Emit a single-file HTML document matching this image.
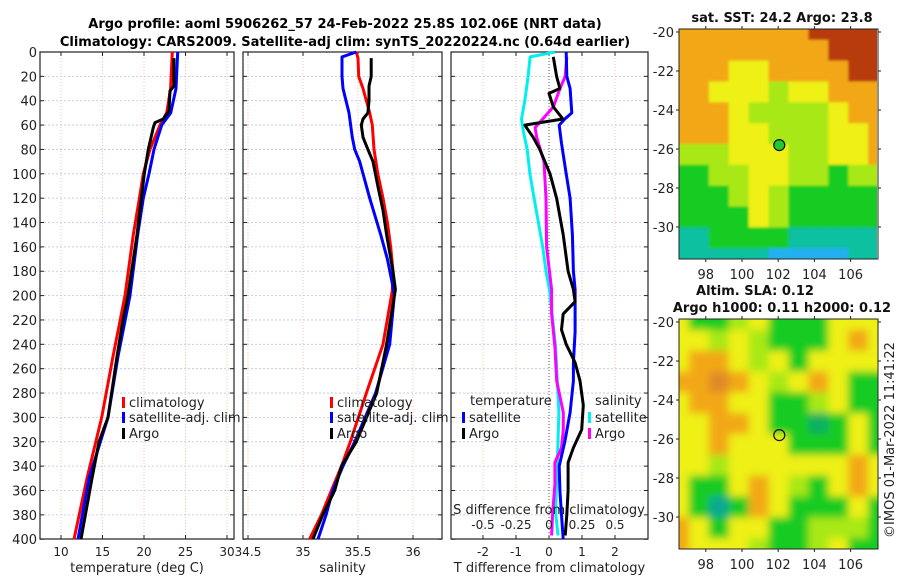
<!DOCTYPE html>
<html><head><meta charset="utf-8">
<style>
body{margin:0;background:#fff;}
svg{display:block;font-family:"DejaVu Sans","Liberation Sans",sans-serif;}
</style></head>
<body>
<svg id="chart" width="900" height="580" viewBox="0 0 900 580">
<defs>
<filter id="blur" x="0" y="0" width="1" height="1"><feGaussianBlur stdDeviation="4"/></filter>
<filter id="blur2" x="0" y="0" width="1" height="1"><feGaussianBlur stdDeviation="1.2"/></filter>
<clipPath id="clipTop"><rect x="679" y="29" width="198" height="230"/></clipPath>
<clipPath id="clipBot"><rect x="679" y="319" width="199" height="230"/></clipPath>
</defs>
<text x="345" y="28" text-anchor="middle" font-size="13" font-weight="bold">Argo profile: aoml 5906262_57 24-Feb-2022 25.8S 102.06E (NRT data)</text>
<text x="345" y="46" text-anchor="middle" font-size="13" font-weight="bold">Climatology: CARS2009. Satellite-adj clim: synTS_20220224.nc (0.64d earlier)</text>
<g id="g"></g>
</svg>
<script>
// ---- Data ----
const depthTClim=[0,30,50,60,80,100,120,150,200,250,300,350,400];
const tempClim=[23.41,23.2,22.73,21.93,20.72,19.92,19.44,18.71,17.71,16.27,14.9,13.13,11.57];
const depthTSat=[0,30,50,60,80,100,120,150,200,250,300,350,400];
const tempSat=[24.06,23.86,23.22,22.13,21.2,20.6,19.92,19.24,18.31,16.87,15.66,13.37,12.05];
const depthTArgo=[5,28,32,48,55,58,62,80,100,150,200,220,250,300,320,350,400];
const tempArgo=[23.6,23.6,23.13,23.01,22.33,21.32,21.12,20.52,20.04,19.16,18.07,17.47,16.75,15.66,14.58,13.73,12.41];

const depthSClim=[0,5,20,30,50,60,80,100,120,140,160,180,196,240,280,320,340,360,380,400];
const salClim=[35.485,35.5,35.506,35.545,35.606,35.63,35.645,35.68,35.727,35.767,35.797,35.818,35.812,35.727,35.576,35.43,35.35,35.258,35.167,35.06];
const depthSSat=[0,4,20,30,50,70,80,90,120,150,170,190,200,240,280,320,340,360,380,400];
const salSat=[35.485,35.355,35.355,35.364,35.418,35.448,35.47,35.515,35.606,35.706,35.767,35.812,35.83,35.788,35.66,35.47,35.364,35.27,35.21,35.136];
const depthSArgo=[5,20,28,40,50,55,60,70,80,90,110,130,150,180,195,240,280,320,340,360,380,400];
const salArgo=[35.62,35.62,35.6,35.6,35.59,35.545,35.53,35.545,35.59,35.636,35.68,35.727,35.76,35.818,35.84,35.76,35.67,35.485,35.35,35.288,35.18,35.09];

const depthDSSat=[0,4,20,40,55,65,80,100,120,140,160,180,195,242,296,337,378,397];
const sDiffSat=[0.045,-0.143,-0.158,-0.183,-0.208,-0.195,-0.165,-0.145,-0.113,-0.08,-0.048,-0.023,0.003,0.05,0.075,0.063,0.05,0.068];
const depthDSArgo=[4,20,30,45,55,62,70,90,120,160,195,215,242,270,296,310,325,337,355,378,397];
const sDiffArgo=[0.135,0.123,0.083,0.033,-0.048,-0.105,-0.093,-0.038,-0.023,-0.018,0.02,0.02,0.045,0.058,0.108,0.108,0.095,0.045,0.045,0.028,0.02];
const depthDTSat=[0,20,30,50,55,60,75,100,120,150,180,195,205,230,255,270,296,320,340,360,380,400];
const tDiffSat=[0.52,0.54,0.64,0.69,0.48,0.31,0.38,0.52,0.64,0.71,0.74,0.79,0.79,0.79,0.74,0.74,0.64,0.48,0.31,0.33,0.38,0.43];
const depthDTArgo=[4,20,30,34,45,55,58,60,63,70,80,100,120,150,180,195,205,215,228,240,255,270,290,310,325,337,360,380,397];
const tDiffArgo=[0.13,0.23,0.33,0.0,0.13,0.42,-0.27,-0.73,-0.66,-0.48,-0.28,0.03,0.23,0.43,0.58,0.74,0.79,0.43,0.38,0.52,0.79,0.94,1.04,0.99,0.74,0.58,0.58,0.54,0.49];

const depthTicks=[0,20,40,60,80,100,120,140,160,180,200,220,240,260,280,300,320,340,360,380,400];
const tempTicks=[10,15,20,25,30];
const salTicks=[34.5,35,35.5,36];
const tdTicks=[-2,-1,0,1,2];
const sdTicks=[-0.5,-0.25,0,0.25,0.5];
const sdTickLabels=["-0.5","-0.25","0","0.25","0.5"];
const latTicks=[-20,-22,-24,-26,-28,-30];
const lonTicks=[98,100,102,104,106];

// map colour grids (rows lat -20..-31, cols lon 97..107)
const sstGrid=["ooooooorrrr","oooooooorrr","oooyyoooorr","ooyyylyyooo","oooyllllyoo","oooyylllyyo","lllyyyllyyo","ggllyyllgll","ggglylggggg","ggggylggggg","ttggggttttt","tttttcccctt"];
const slaGrid=["ygglygggyyy","yylylgggyoy","yooylygyyyy","ooOoylyoygg","yooyygglygg","yyooyggGgyg","yyoyyygggyg","yylyyyyyyoy","yggyoylgyoy","ygTgoygggyg","oygyygglllg","oyyylgglygg"];
const palette={o:"#f2a818",O:"#e08a28",r:"#b83a10",y:"#eef018",l:"#a8e818",g:"#18cc20",G:"#10b060",t:"#10c0a0",T:"#10a890",c:"#20b0f0"};

// ---- Axes ----
const yD=d=>52+d*1.218;
const xT=t=>61+(t-10)*8.3;
const xS=s=>303+(s-35)*110;
const xDT=v=>549+v*33;
const xDS=s=>549+s*132;
const lonX=lo=>742+(lo-100)*18.1;
const latY=(la,top)=>top+(-20-la)*19.5;

const NS="http://www.w3.org/2000/svg";
const G=document.getElementById('g');
function mk(tag,attrs,parent){const e=document.createElementNS(NS,tag);for(const k in attrs)e.setAttribute(k,attrs[k]);(parent||G).appendChild(e);return e;}
function txt(x,y,s,size,anchor,parent){const e=mk('text',{x:x,y:y,'font-size':size||12,'text-anchor':anchor||'middle',fill:'#222'},parent);e.textContent=s;return e;}

function panel(name,x0,x1,ticks,xf,labels,xlabel,showDepth){
  const g=mk('g',{});
  
  
  const y0=52,y1=539;
  depthTicks.forEach(d=>{const l=mk('line',{x1:x0,x2:x1,y1:yD(d),y2:yD(d),stroke:'#b8c4ec','stroke-width':0.8,'stroke-dasharray':'2,2'},g);});
  ticks.forEach(t=>{const l=mk('line',{x1:xf(t),x2:xf(t),y1:y0,y2:y1,stroke:'#e8b8a0','stroke-width':0.8,'stroke-dasharray':'1,2'},g);});
  const fr=mk('rect',{x:x0,y:y0,width:x1-x0,height:y1-y0,fill:'none',stroke:'#222','stroke-width':1.2},g);
  
  depthTicks.forEach(d=>{mk('line',{x1:x0,x2:x0+4,y1:yD(d),y2:yD(d),stroke:'#222'},g);mk('line',{x1:x1-4,x2:x1,y1:yD(d),y2:yD(d),stroke:'#222'},g);
    if(showDepth){const t=txt(37,yD(d)+5,String(d),13,'end',g);}});
  ticks.forEach((t,i)=>{mk('line',{x1:xf(t),x2:xf(t),y1:y1,y2:y1-4,stroke:'#222'},g);mk('line',{x1:xf(t),x2:xf(t),y1:y0,y2:y0+4,stroke:'#222'},g);
    const tl=txt(xf(t),556,labels[i],12,'middle',g);});
  const xl=txt((x0+x1)/2,572,xlabel,13,'middle',g);
  return g;
}
function series(name,depths,vals,xf,color){
  const pts=depths.map((d,i)=>xf(vals[i]).toFixed(1)+','+yD(d).toFixed(1)).join(' ');
  const p=mk('polyline',{points:pts,fill:'none',stroke:color,'stroke-width':3,'stroke-linejoin':'round'});
  
  
}
function legend(x,y,color,label,name){
  const g=mk('g',{});
  
  
  mk('rect',{x:x,y:y-9,width:3,height:11,fill:color},g);
  txt(x+7,y+1,label,13,'start',g);
}

panel('temperature',40,234,tempTicks,xT,tempTicks.map(String),'temperature (deg C)',true);
panel('salinity',243,442,salTicks,xS,salTicks.map(String),'salinity',false);
panel('difference',451,648,tdTicks,xDT,tdTicks.map(String),'T difference from climatology',false);
const zl=mk('line',{x1:xDT(0),x2:xDT(0),y1:52,y2:539,stroke:'#555','stroke-width':1,'stroke-dasharray':'1,2'});



series('temp-climatology-line',depthTClim,tempClim,xT,'#ff0000');
series('temp-satellite-line',depthTSat,tempSat,xT,'#0000ff');
series('temp-argo-line',depthTArgo,tempArgo,xT,'#000000');
series('sal-climatology-line',depthSClim,salClim,xS,'#ff0000');
series('sal-satellite-line',depthSSat,salSat,xS,'#0000ff');
series('sal-argo-line',depthSArgo,salArgo,xS,'#000000');
series('sdiff-satellite-line',depthDSSat,sDiffSat,xDS,'#00f0f0');
series('sdiff-argo-line',depthDSArgo,sDiffArgo,xDS,'#ff00ff');
series('tdiff-satellite-line',depthDTSat,tDiffSat,xDT,'#0000ff');
series('tdiff-argo-line',depthDTArgo,tDiffArgo,xDT,'#000000');

legend(122,406,'#ff0000','climatology','legend-climatology');
legend(122,421,'#0000ff','satellite-adj. clim','legend-satellite-adj');
legend(122,437,'#000000','Argo','legend-argo');
legend(330,406,'#ff0000','climatology','legend-climatology-2');
legend(330,421,'#0000ff','satellite-adj. clim','legend-satellite-adj-2');
legend(330,437,'#000000','Argo','legend-argo-2');
const lt=txt(470,405,'temperature',13,'start');
legend(462,421,'#0000ff','satellite','legend-t-satellite');
legend(462,437,'#000000','Argo','legend-t-argo');
const ls=txt(595,405,'salinity',13,'start');
legend(588,421,'#00f0f0','satellite','legend-s-satellite');
legend(588,437,'#ff00ff','Argo','legend-s-argo');
const sdt=txt(549,514,'S difference from climatology',13,'middle');
sdTicks.forEach((s,i)=>{const t=txt(xDS(s),529,sdTickLabels[i],12,'middle');});

// ---- Maps ----
function map(name,grid,top,bottom,clip,filter,titles){
  const g=mk('g',{});
  
  
  const ig=mk('g',{'clip-path':'url(#'+clip+')'},g);
  const inner=mk('g',{filter:'url(#'+filter+')'},ig);
  const x0=679,w=199,h=bottom-top;
  const cw=(w+20)/11,ch=(h+20)/grid.length;
  grid.forEach((row,r)=>{for(let c=0;c<11;c++){mk('rect',{x:x0-10+c*cw,y:top-10+r*ch,width:cw+0.5,height:ch+0.5,fill:palette[row[c]]||'#eef018'},inner);}});
  mk('rect',{x:x0,y:top,width:w,height:h,fill:'none',stroke:'#222','stroke-width':1},g);
  latTicks.forEach(la=>{const y=latY(la,top+3);mk('line',{x1:x0-3,x2:x0,y1:y,y2:y,stroke:'#222'},g);mk('line',{x1:x0+w,x2:x0+w+3,y1:y,y2:y,stroke:'#222'},g);
    const t=txt(674,y+5,String(la),13,'end',g);});
  lonTicks.forEach(lo=>{const x=lonX(lo);mk('line',{x1:x,x2:x,y1:bottom,y2:bottom+3,stroke:'#222'},g);mk('line',{x1:x,x2:x,y1:top-3,y2:top,stroke:'#222'},g);
    const t=txt(x,bottom+20,String(lo),13,'middle',g);});
  titles.forEach((s,i)=>{const t=mk('text',{x:titles.length>1&&i==0?755:782,y:top-(titles.length-i)*17+10,'font-size':13,'font-weight':'bold','text-anchor':'middle',fill:'#111'},g);t.textContent=s;});
  return g;
}
map('sst-map',sstGrid,29,259,'clipTop','blur2',['sat. SST: 24.2 Argo: 23.8']);
map('sla-map',slaGrid,319,549,'clipBot','blur',['Altim. SLA: 0.12','Argo h1000: 0.11 h2000: 0.12']);
const f1=mk('circle',{cx:lonX(102.06),cy:latY(-25.8,32),r:5.5,fill:'#22c830',stroke:'#111','stroke-width':1.2});


const f2=mk('circle',{cx:lonX(102.06),cy:latY(-25.8,322),r:5.5,fill:'none',stroke:'#111','stroke-width':1.2});


const cr=txt(0,0,'©IMOS 01-Mar-2022 11:41:22',13,'middle');
cr.setAttribute('transform','translate(894,440) rotate(-90)');


</script>
</body></html>
